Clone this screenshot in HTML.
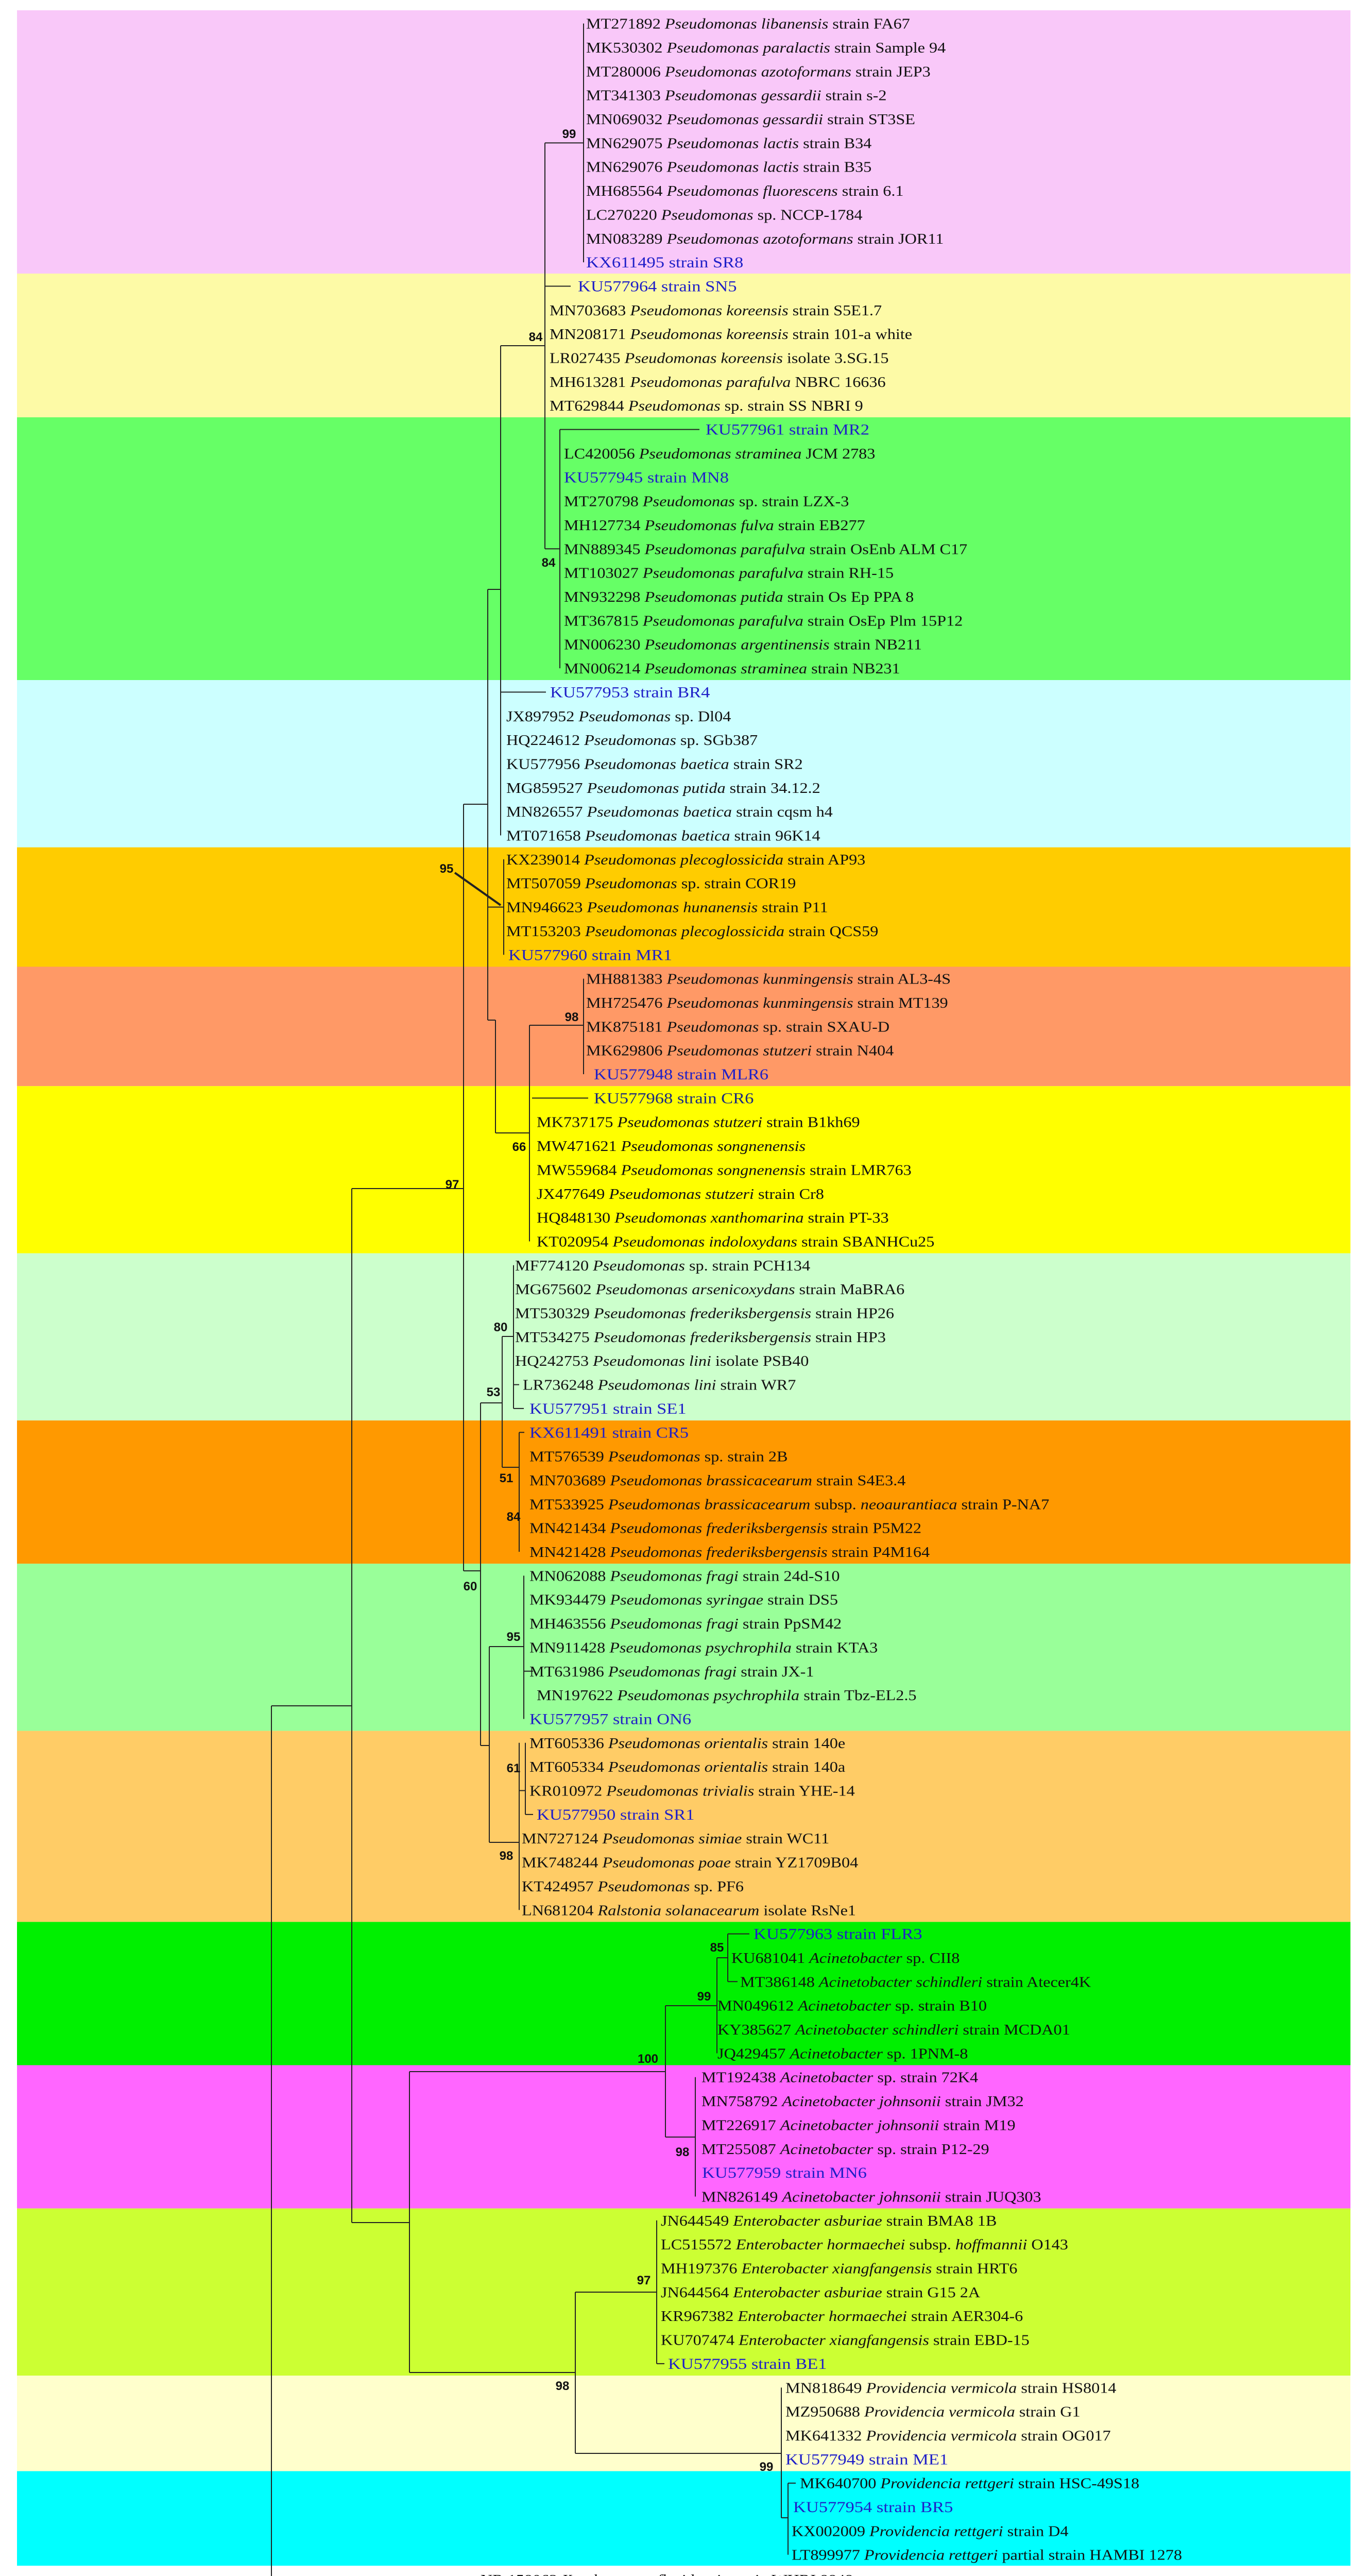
<!DOCTYPE html>
<html><head><meta charset="utf-8"><style>
html,body{margin:0;padding:0;background:#fff;width:2625px;height:5131px;overflow:hidden}
svg{display:block}
text{font-family:"Liberation Serif",serif;font-size:28px;fill:#111}
.b{fill:#1f1fc8;font-size:30px}
.s{font-family:"Liberation Sans",sans-serif;font-weight:bold;font-size:24px;fill:#111}
</style></head><body>
<svg width="2625" height="5131" viewBox="0 0 2625 5131" xmlns="http://www.w3.org/2000/svg">
<g>
<rect x="33" y="20" width="2589" height="511" fill="#f9c8f9"/>
<rect x="33" y="531" width="2589" height="279" fill="#fdfaa6"/>
<rect x="33" y="810" width="2589" height="510" fill="#66ff66"/>
<rect x="33" y="1320" width="2589" height="325" fill="#ccffff"/>
<rect x="33" y="1644.7" width="2589" height="231.8" fill="#ffcc00"/>
<rect x="33" y="1876.4" width="2589" height="231.8" fill="#ff9966"/>
<rect x="33" y="2108.2" width="2589" height="324.5" fill="#ffff00"/>
<rect x="33" y="2432.6" width="2589" height="324.5" fill="#ccffcc"/>
<rect x="33" y="2757.1" width="2589" height="278.1" fill="#ff9900"/>
<rect x="33" y="3035.2" width="2589" height="324.5" fill="#99ff99"/>
<rect x="33" y="3359.6" width="2589" height="370.8" fill="#ffcc66"/>
<rect x="33" y="3730.4" width="2589" height="278.1" fill="#00f000"/>
<rect x="33" y="4008.5" width="2589" height="278.1" fill="#ff66ff"/>
<rect x="33" y="4286.6" width="2589" height="324.5" fill="#ccff33"/>
<rect x="33" y="4611.1" width="2589" height="185.4" fill="#ffffcc"/>
<rect x="33" y="4796.5" width="2589" height="183.5" fill="#00ffff"/>
</g>
<g stroke="#222" stroke-width="2" fill="none">
<path d="M1133 45.6V509.1M1058 277.4H1133M1058 277.4V1065.3M1058 555.5H1108M1087 833.6V1297.1M1058 1065.3H1087M1087 833.6H1358"/>
<path d="M972 671H1058M972 671V1621.5M972 1343.4H1060M947 1144H972M978 1667.9V1853.3M947 1760.6H978M947 1144V1980M947 1980H962M962 1980V2199M962 2199H1028M1028 1990V2409.5M1028 1990H1133M1133 1899.6V2085M1033 2131.4H1142"/>
<path d="M900 1561H947M900 1561V3049M683 2307H900M900 3049H933M933 2723V3388M933 2723H975M975 2594V2848M975 2594H997M997 2455.8V2733.9M997 2687.6H1008M997 2733.9H1017M975 2848H1008M1008 2780.3V3012M1008 2780.3H1018"/>
<path d="M933 3388H950M950 3196V3576M950 3196H1017M1017 3058.4V3336.5M1017 3243.8H1035M950 3576H1008M1008 3382.8V3707.3M1008 3475.5H1020M1020 3382.8V3521.9M1020 3521.9H1035"/>
<path d="M527 3311V5007M527 3311H683M527 5007H913M683 2307V4314M683 4314H795M795 4021V4605M795 4021H1292M1292 3893V4148M1292 3893H1392M1392 3800V3985.4M1392 3800H1413M1413 3753.6V3846.3M1413 3753.6H1455M1413 3846.3H1432M1292 4148H1350M1350 4031.7V4263.5"/>
<path d="M795 4605H1117M1117 4449V4762M1117 4449H1275M1275 4309.8V4587.9M1275 4587.9H1290M1117 4762H1517M1517 4634.3V4887M1517 4887H1530M1530 4819.7V4958.7M1530 4819.7H1545"/>
<path d="M883 1694L972 1757" stroke-width="4"/>
<path d="M627 5069H743M627 5059V5079M743 5059V5079"/>
</g>
<g transform="scale(1.15,1)">
<text x="989.6" y="55.6">MT271892 <tspan font-style="italic">Pseudomonas libanensis</tspan> strain FA67</text>
<text x="989.6" y="102">MK530302 <tspan font-style="italic">Pseudomonas paralactis</tspan> strain Sample 94</text>
<text x="989.6" y="148.3">MT280006 <tspan font-style="italic">Pseudomonas azotoformans</tspan> strain JEP3</text>
<text x="989.6" y="194.7">MT341303 <tspan font-style="italic">Pseudomonas gessardii</tspan> strain s-2</text>
<text x="989.6" y="241">MN069032 <tspan font-style="italic">Pseudomonas gessardii</tspan> strain ST3SE</text>
<text x="989.6" y="287.4">MN629075 <tspan font-style="italic">Pseudomonas lactis</tspan> strain B34</text>
<text x="989.6" y="333.7">MN629076 <tspan font-style="italic">Pseudomonas lactis</tspan> strain B35</text>
<text x="989.6" y="380.1">MH685564 <tspan font-style="italic">Pseudomonas fluorescens</tspan> strain 6.1</text>
<text x="989.6" y="426.4">LC270220 <tspan font-style="italic">Pseudomonas</tspan> sp. NCCP-1784</text>
<text x="989.6" y="472.8">MN083289 <tspan font-style="italic">Pseudomonas azotoformans</tspan> strain JOR11</text>
<text class="b" x="989.6" y="519.1">KX611495 strain SR8</text>
<text class="b" x="975.7" y="565.5">KU577964 strain SN5</text>
<text x="927.8" y="611.8">MN703683 <tspan font-style="italic">Pseudomonas koreensis</tspan> strain S5E1.7</text>
<text x="927.8" y="658.2">MN208171 <tspan font-style="italic">Pseudomonas koreensis</tspan> strain 101-a white</text>
<text x="927.8" y="704.5">LR027435 <tspan font-style="italic">Pseudomonas koreensis</tspan> isolate 3.SG.15</text>
<text x="927.8" y="750.9">MH613281 <tspan font-style="italic">Pseudomonas parafulva</tspan> NBRC 16636</text>
<text x="927.8" y="797.2">MT629844 <tspan font-style="italic">Pseudomonas</tspan> sp. strain SS NBRI 9</text>
<text class="b" x="1191.3" y="843.6">KU577961 strain MR2</text>
<text x="952.2" y="889.9">LC420056 <tspan font-style="italic">Pseudomonas straminea</tspan> JCM 2783</text>
<text class="b" x="952.2" y="936.3">KU577945 strain MN8</text>
<text x="952.2" y="982.6">MT270798 <tspan font-style="italic">Pseudomonas</tspan> sp. strain LZX-3</text>
<text x="952.2" y="1029">MH127734 <tspan font-style="italic">Pseudomonas fulva</tspan> strain EB277</text>
<text x="952.2" y="1075.3">MN889345 <tspan font-style="italic">Pseudomonas parafulva</tspan> strain OsEnb ALM C17</text>
<text x="952.2" y="1121.7">MT103027 <tspan font-style="italic">Pseudomonas parafulva</tspan> strain RH-15</text>
<text x="952.2" y="1168">MN932298 <tspan font-style="italic">Pseudomonas putida</tspan> strain Os Ep PPA 8</text>
<text x="952.2" y="1214.4">MT367815 <tspan font-style="italic">Pseudomonas parafulva</tspan> strain OsEp Plm 15P12</text>
<text x="952.2" y="1260.7">MN006230 <tspan font-style="italic">Pseudomonas argentinensis</tspan> strain NB211</text>
<text x="952.2" y="1307.1">MN006214 <tspan font-style="italic">Pseudomonas straminea</tspan> strain NB231</text>
<text class="b" x="928.7" y="1353.4">KU577953 strain BR4</text>
<text x="854.8" y="1399.8">JX897952 <tspan font-style="italic">Pseudomonas</tspan> sp. Dl04</text>
<text x="854.8" y="1446.1">HQ224612 <tspan font-style="italic">Pseudomonas</tspan> sp. SGb387</text>
<text x="854.8" y="1492.5">KU577956 <tspan font-style="italic">Pseudomonas baetica</tspan> strain SR2</text>
<text x="854.8" y="1538.8">MG859527 <tspan font-style="italic">Pseudomonas putida</tspan> strain 34.12.2</text>
<text x="854.8" y="1585.2">MN826557 <tspan font-style="italic">Pseudomonas baetica</tspan> strain cqsm h4</text>
<text x="854.8" y="1631.5">MT071658 <tspan font-style="italic">Pseudomonas baetica</tspan> strain 96K14</text>
<text x="854.8" y="1677.9">KX239014 <tspan font-style="italic">Pseudomonas plecoglossicida</tspan> strain AP93</text>
<text x="854.8" y="1724.2">MT507059 <tspan font-style="italic">Pseudomonas</tspan> sp. strain COR19</text>
<text x="854.8" y="1770.6">MN946623 <tspan font-style="italic">Pseudomonas hunanensis</tspan> strain P11</text>
<text x="854.8" y="1816.9">MT153203 <tspan font-style="italic">Pseudomonas plecoglossicida</tspan> strain QCS59</text>
<text class="b" x="858.3" y="1863.3">KU577960 strain MR1</text>
<text x="989.6" y="1909.6">MH881383 <tspan font-style="italic">Pseudomonas kunmingensis</tspan> strain AL3-4S</text>
<text x="989.6" y="1956">MH725476 <tspan font-style="italic">Pseudomonas kunmingensis</tspan> strain MT139</text>
<text x="989.6" y="2002.3">MK875181 <tspan font-style="italic">Pseudomonas</tspan> sp. strain SXAU-D</text>
<text x="989.6" y="2048.7">MK629806 <tspan font-style="italic">Pseudomonas stutzeri</tspan> strain N404</text>
<text class="b" x="1002.6" y="2095">KU577948 strain MLR6</text>
<text class="b" x="1002.6" y="2141.4" style="fill:#1a2a80">KU577968 strain CR6</text>
<text x="906.1" y="2187.7">MK737175 <tspan font-style="italic">Pseudomonas stutzeri</tspan> strain B1kh69</text>
<text x="906.1" y="2234.1">MW471621 <tspan font-style="italic">Pseudomonas songnenensis</tspan></text>
<text x="906.1" y="2280.4">MW559684 <tspan font-style="italic">Pseudomonas songnenensis</tspan> strain LMR763</text>
<text x="906.1" y="2326.8">JX477649 <tspan font-style="italic">Pseudomonas stutzeri</tspan> strain Cr8</text>
<text x="906.1" y="2373.1">HQ848130 <tspan font-style="italic">Pseudomonas xanthomarina</tspan> strain PT-33</text>
<text x="906.1" y="2419.5">KT020954 <tspan font-style="italic">Pseudomonas indoloxydans</tspan> strain SBANHCu25</text>
<text x="869.6" y="2465.8">MF774120 <tspan font-style="italic">Pseudomonas</tspan> sp. strain PCH134</text>
<text x="869.6" y="2512.2">MG675602 <tspan font-style="italic">Pseudomonas arsenicoxydans</tspan> strain MaBRA6</text>
<text x="869.6" y="2558.5">MT530329 <tspan font-style="italic">Pseudomonas frederiksbergensis</tspan> strain HP26</text>
<text x="869.6" y="2604.9">MT534275 <tspan font-style="italic">Pseudomonas frederiksbergensis</tspan> strain HP3</text>
<text x="869.6" y="2651.2">HQ242753 <tspan font-style="italic">Pseudomonas lini</tspan> isolate PSB40</text>
<text x="882.6" y="2697.6">LR736248 <tspan font-style="italic">Pseudomonas lini</tspan> strain WR7</text>
<text class="b" x="893.9" y="2743.9">KU577951 strain SE1</text>
<text class="b" x="893.9" y="2790.3">KX611491 strain CR5</text>
<text x="893.9" y="2836.6">MT576539 <tspan font-style="italic">Pseudomonas</tspan> sp. strain 2B</text>
<text x="893.9" y="2883">MN703689 <tspan font-style="italic">Pseudomonas brassicacearum</tspan> strain S4E3.4</text>
<text x="893.9" y="2929.3">MT533925 <tspan font-style="italic">Pseudomonas brassicacearum</tspan> subsp. <tspan font-style="italic">neoaurantiaca</tspan> strain P-NA7</text>
<text x="893.9" y="2975.7">MN421434 <tspan font-style="italic">Pseudomonas frederiksbergensis</tspan> strain P5M22</text>
<text x="893.9" y="3022">MN421428 <tspan font-style="italic">Pseudomonas frederiksbergensis</tspan> strain P4M164</text>
<text x="893.9" y="3068.4">MN062088 <tspan font-style="italic">Pseudomonas fragi</tspan> strain 24d-S10</text>
<text x="893.9" y="3114.7">MK934479 <tspan font-style="italic">Pseudomonas syringae</tspan> strain DS5</text>
<text x="893.9" y="3161.1">MH463556 <tspan font-style="italic">Pseudomonas fragi</tspan> strain PpSM42</text>
<text x="893.9" y="3207.4">MN911428 <tspan font-style="italic">Pseudomonas psychrophila</tspan> strain KTA3</text>
<text x="893.9" y="3253.8">MT631986 <tspan font-style="italic">Pseudomonas fragi</tspan> strain JX-1</text>
<text x="906.1" y="3300.1">MN197622 <tspan font-style="italic">Pseudomonas psychrophila</tspan> strain Tbz-EL2.5</text>
<text class="b" x="893.9" y="3346.5">KU577957 strain ON6</text>
<text x="893.9" y="3392.8">MT605336 <tspan font-style="italic">Pseudomonas orientalis</tspan> strain 140e</text>
<text x="893.9" y="3439.2">MT605334 <tspan font-style="italic">Pseudomonas orientalis</tspan> strain 140a</text>
<text x="893.9" y="3485.5">KR010972 <tspan font-style="italic">Pseudomonas trivialis</tspan> strain YHE-14</text>
<text class="b" x="906.1" y="3531.9">KU577950 strain SR1</text>
<text x="880.9" y="3578.2">MN727124 <tspan font-style="italic">Pseudomonas simiae</tspan> strain WC11</text>
<text x="880.9" y="3624.6">MK748244 <tspan font-style="italic">Pseudomonas poae</tspan> strain YZ1709B04</text>
<text x="880.9" y="3670.9">KT424957 <tspan font-style="italic">Pseudomonas</tspan> sp. PF6</text>
<text x="880.9" y="3717.3">LN681204 <tspan font-style="italic">Ralstonia solanacearum</tspan> isolate RsNe1</text>
<text class="b" x="1272.2" y="3763.6">KU577963 strain FLR3</text>
<text x="1234.8" y="3810">KU681041 <tspan font-style="italic">Acinetobacter</tspan> sp. CII8</text>
<text x="1249.6" y="3856.3">MT386148 <tspan font-style="italic">Acinetobacter schindleri</tspan> strain Atecer4K</text>
<text x="1211.3" y="3902.7">MN049612 <tspan font-style="italic">Acinetobacter</tspan> sp. strain B10</text>
<text x="1211.3" y="3949">KY385627 <tspan font-style="italic">Acinetobacter schindleri</tspan> strain MCDA01</text>
<text x="1211.3" y="3995.4">JQ429457 <tspan font-style="italic">Acinetobacter</tspan> sp. 1PNM-8</text>
<text x="1184.3" y="4041.7">MT192438 <tspan font-style="italic">Acinetobacter</tspan> sp. strain 72K4</text>
<text x="1184.3" y="4088.1">MN758792 <tspan font-style="italic">Acinetobacter johnsonii</tspan> strain JM32</text>
<text x="1184.3" y="4134.4">MT226917 <tspan font-style="italic">Acinetobacter johnsonii</tspan> strain M19</text>
<text x="1184.3" y="4180.8">MT255087 <tspan font-style="italic">Acinetobacter</tspan> sp. strain P12-29</text>
<text class="b" x="1185.2" y="4227.1">KU577959 strain MN6</text>
<text x="1184.3" y="4273.5">MN826149 <tspan font-style="italic">Acinetobacter johnsonii</tspan> strain JUQ303</text>
<text x="1115.7" y="4319.8">JN644549 <tspan font-style="italic">Enterobacter asburiae</tspan> strain BMA8 1B</text>
<text x="1115.7" y="4366.2">LC515572 <tspan font-style="italic">Enterobacter hormaechei</tspan> subsp. <tspan font-style="italic">hoffmannii</tspan> O143</text>
<text x="1115.7" y="4412.5">MH197376 <tspan font-style="italic">Enterobacter xiangfangensis</tspan> strain HRT6</text>
<text x="1115.7" y="4458.9">JN644564 <tspan font-style="italic">Enterobacter asburiae</tspan> strain G15 2A</text>
<text x="1115.7" y="4505.2">KR967382 <tspan font-style="italic">Enterobacter hormaechei</tspan> strain AER304-6</text>
<text x="1115.7" y="4551.6">KU707474 <tspan font-style="italic">Enterobacter xiangfangensis</tspan> strain EBD-15</text>
<text class="b" x="1127.8" y="4597.9">KU577955 strain BE1</text>
<text x="1326.1" y="4644.3">MN818649 <tspan font-style="italic">Providencia vermicola</tspan> strain HS8014</text>
<text x="1326.1" y="4690.6">MZ950688 <tspan font-style="italic">Providencia vermicola</tspan> strain G1</text>
<text x="1326.1" y="4737">MK641332 <tspan font-style="italic">Providencia vermicola</tspan> strain OG017</text>
<text class="b" x="1326.1" y="4783.3">KU577949 strain ME1</text>
<text x="1350.4" y="4829.7">MK640700 <tspan font-style="italic">Providencia rettgeri</tspan> strain HSC-49S18</text>
<text class="b" x="1339.1" y="4876">KU577954 strain BR5</text>
<text x="1336.5" y="4922.4">KX002009 <tspan font-style="italic">Providencia rettgeri</tspan> strain D4</text>
<text x="1336.5" y="4968.7">LT899977 <tspan font-style="italic">Providencia rettgeri</tspan> partial strain HAMBI 1278</text>
<text x="811.3" y="5017">NR 158062 <tspan font-style="italic">Xanthomonas floridensis</tspan> strain WHRI 8848</text>
<text x="594" y="5107" text-anchor="middle" style="font-size:26px">0.020</text>
</g>
<g text-anchor="middle">
<text class="s" x="1105" y="268">99</text>
<text class="s" x="1040" y="662">84</text>
<text class="s" x="1065" y="1100">84</text>
<text class="s" x="867" y="1694">95</text>
<text class="s" x="1110" y="1982">98</text>
<text class="s" x="1008" y="2234">66</text>
<text class="s" x="878" y="2307">97</text>
<text class="s" x="972" y="2584">80</text>
<text class="s" x="958" y="2710">53</text>
<text class="s" x="983" y="2877">51</text>
<text class="s" x="997" y="2952">84</text>
<text class="s" x="913" y="3087">60</text>
<text class="s" x="997" y="3185">95</text>
<text class="s" x="997" y="3440">61</text>
<text class="s" x="983" y="3610">98</text>
<text class="s" x="1392" y="3788">85</text>
<text class="s" x="1367" y="3883">99</text>
<text class="s" x="1258" y="4004">100</text>
<text class="s" x="1325" y="4185">98</text>
<text class="s" x="1250" y="4434">97</text>
<text class="s" x="1092" y="4639">98</text>
<text class="s" x="1488" y="4796">99</text>
</g>
</svg>
</body></html>
